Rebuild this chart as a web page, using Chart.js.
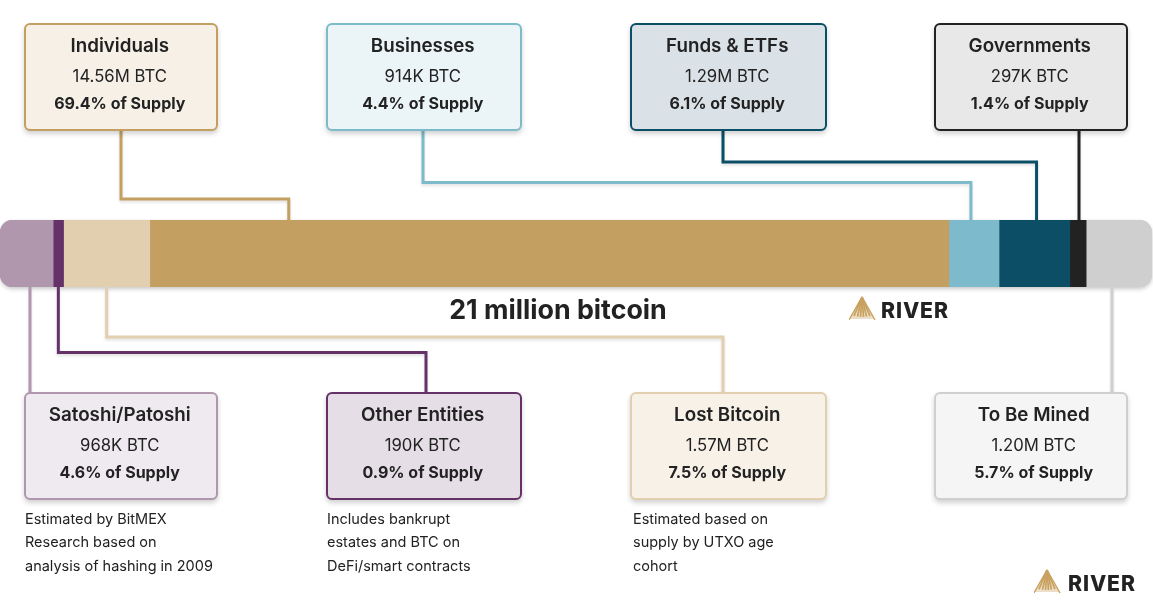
<!DOCTYPE html>
<html>
<head>
<meta charset="utf-8">
<title>Bitcoin supply distribution</title>
<script src="https://cdn.jsdelivr.net/npm/chart.js@4"></script>
<style>
    html, body { margin: 0; padding: 0; background: #fff; }
    #wrap { position: relative; width: 1153px; height: 606px; overflow: hidden; font-family: Inter, sans-serif; color: #222; }
    #supplyChart { position: absolute; left: 0; top: 0; }
    .box { position: absolute; box-sizing: border-box; height: 108.5px; border: 2.5px solid; border-radius: 6px; text-align: center; box-shadow: 0 3px 5px rgba(0, 0, 0, 0.18); }
    .box div { position: absolute; left: 0; white-space: nowrap; }
    .name { top: 7px; font-size: 18.8px; line-height: 28px; font-weight: 600; }
    .amount { top: 39px; font-size: 16.7px; line-height: 24px; font-weight: 400; }
    .share { top: 66px; font-size: 16px; line-height: 24px; font-weight: 700; }
    .note { position: absolute; top: 507px; font-size: 14.5px; line-height: 23.3px; white-space: nowrap; }
    #total { position: absolute; left: 358px; width: 400px; top: 292px; text-align: center; font-size: 26.8px; line-height: 34px; font-weight: 700; }
    .logo { position: absolute; height: 26px; width: 110px; }
    .logo svg { position: absolute; left: 0; top: 0; }
    .logo span { position: absolute; top: 1px; font-size: 21.2px; line-height: 26px; font-weight: 800; letter-spacing: 0.9px; }
</style>
</head>
<body>
<div id="wrap">
    <canvas id="supplyChart" width="1153" height="606"></canvas>
</div>
<script>
// order along the bar, left to right
const categories = ["Satoshi/Patoshi", "Other Entities", "Lost Bitcoin", "Individuals", "Businesses", "Funds & ETFs", "Governments", "To Be Mined"];
const btcMillions = [0.968, 0.19, 1.57, 14.56, 0.914, 1.29, 0.297, 1.2];
const amountLabels = ["968K BTC", "190K BTC", "1.57M BTC", "14.56M BTC", "914K BTC", "1.29M BTC", "297K BTC", "1.20M BTC"];
const shareLabels = ["4.6% of Supply", "0.9% of Supply", "7.5% of Supply", "69.4% of Supply", "4.4% of Supply", "6.1% of Supply", "1.4% of Supply", "5.7% of Supply"];
const noteLines = [
    ["Estimated by BitMEX", "Research based on", "analysis of hashing in 2009"],
    ["Includes bankrupt", "estates and BTC on", "DeFi/smart contracts"],
    ["Estimated based on", "supply by UTXO age", "cohort"]
];
const barColors = ["#b097ae", "#643268", "#e1cfb0", "#c39f61", "#7dbacc", "#0b4e66", "#222222", "#cfcfcf"];
const boxFills = ["#efeaf0", "#e5dee6", "#f7f1e8", "#f6f0e7", "#ebf4f7", "#dae2e7", "#e8e8e8", "#f5f5f5"];

// box position, where the connector leaves it, its elbow, and how far along the segment it lands
const boxLayout = [
    { left: 23.5, width: 194.5, top: 391.5, textRight: 2, lineX: 30, elbowY: null, along: 0.57 },
    { left: 325.5, width: 196.5, top: 391.5, textRight: 2, lineX: 426, elbowY: 352.5, along: 0.5 },
    { left: 629.5, width: 197.5, top: 391.5, textRight: 2, lineX: 723, elbowY: 337, along: 0.5 },
    { left: 23.5, width: 194.5, top: 22.5, textRight: 2, lineX: 121, elbowY: 199, along: 0.174 },
    { left: 325.5, width: 196.5, top: 22.5, textRight: 2, lineX: 423, elbowY: 182.5, along: 0.44 },
    { left: 629.5, width: 197.5, top: 22.5, textRight: 2, lineX: 723, elbowY: 162, along: 0.53 },
    { left: 933.5, width: 194.5, top: 22.5, textRight: 2, lineX: 1079, elbowY: null, along: 0.5 },
    { left: 933.5, width: 194.5, top: 391.5, textRight: -6, lineX: 1112, elbowY: null, along: 0.38 }
];
const noteLeft = [25, 327, 633];

const barTop = 220;
const barBottom = 287;
const barRadius = 13;

function segmentX(scale, index) {
    const start = btcMillions.slice(0, index).reduce((a, b) => a + b, 0);
    return scale.getPixelForValue(start + btcMillions[index] * boxLayout[index].along);
}

// soft shadow under the bar and the connector lines, drawn before the segments
const connectorPlugin = {
    id: "connectors",
    beforeDatasetsDraw(chart) {
        const { ctx, chartArea, scales } = chart;
        ctx.save();
        ctx.shadowColor = "rgba(0, 0, 0, 0.22)";
        ctx.shadowBlur = 4;
        ctx.shadowOffsetY = 2;
        ctx.fillStyle = "#cfcfcf";
        ctx.beginPath();
        ctx.roundRect(chartArea.left, chartArea.top, chartArea.right - chartArea.left, chartArea.bottom - chartArea.top, barRadius);
        ctx.fill();

        ctx.shadowColor = "rgba(0, 0, 0, 0.12)";
        ctx.shadowBlur = 3;
        ctx.lineWidth = 3;
        ctx.lineJoin = "miter";
        boxLayout.forEach((box, i) => {
            const above = box.top < barTop;
            const fromY = above ? box.top + 106 : box.top + 2;
            const toY = above ? barTop : barBottom;
            const toX = box.elbowY === null ? box.lineX : segmentX(scales.x, i);
            ctx.strokeStyle = barColors[i];
            ctx.beginPath();
            ctx.moveTo(box.lineX, fromY);
            if (box.elbowY !== null) {
                ctx.lineTo(box.lineX, box.elbowY);
                ctx.lineTo(toX, box.elbowY);
            }
            ctx.lineTo(toX, toY);
            ctx.stroke();
        });
        ctx.restore();
    }
};

const totalSupply = btcMillions.reduce((a, b) => a + b, 0);

new Chart(document.getElementById("supplyChart").getContext("2d"), {
    type: "bar",
    plugins: [connectorPlugin],
    data: {
        labels: ["Supply"],
        datasets: categories.map((name, i) => ({
            label: name,
            data: [btcMillions[i]],
            backgroundColor: barColors[i],
            borderWidth: 0,
            borderSkipped: false,
            barPercentage: 1,
            categoryPercentage: 1,
            borderRadius: i === 0 ? { topLeft: barRadius, bottomLeft: barRadius }
                : i === categories.length - 1 ? { topRight: barRadius, bottomRight: barRadius } : 0
        }))
    },
    options: {
        indexAxis: "y",
        responsive: false,
        animation: false,
        layout: { padding: { left: 0, right: 1, top: barTop, bottom: 606 - barBottom } },
        plugins: { legend: { display: false }, tooltip: { enabled: false } },
        scales: {
            x: { stacked: true, display: false, min: 0, max: totalSupply },
            y: { stacked: true, display: false }
        }
    }
});

const wrap = document.getElementById("wrap");

function addEl(className, css, text) {
    const el = document.createElement("div");
    el.className = className;
    el.style.cssText = css;
    if (text) el.textContent = text;
    wrap.appendChild(el);
    return el;
}

categories.forEach((name, i) => {
    const b = boxLayout[i];
    const box = addEl("box", `left:${b.left}px;top:${b.top}px;width:${b.width}px;border-color:${barColors[i]};background:${boxFills[i]}`);
    [["name", name], ["amount", amountLabels[i]], ["share", shareLabels[i]]].forEach(([cls, text]) => {
        const d = document.createElement("div");
        d.className = cls;
        d.style.right = b.textRight + "px";
        d.textContent = text;
        box.appendChild(d);
    });
});

noteLines.forEach((lines, i) => {
    addEl("note", `left:${noteLeft[i]}px`).innerHTML = lines.join("<br>");
});

addEl("", "", "21 million bitcoin").id = "total";

// gold fan of rays for the logo mark
function logoMark() {
    const baseX = [0, 5, 8.5, 11.5, 14.5, 17.5, 21, 26];
    let rays = `<polygon points="13,0 1,23 25,23" fill="#c9a15f" opacity="0.35"/>`;
    baseX.forEach((x, i) => {
        const w = i === 0 || i === baseX.length - 1 ? 1.4 : 1.7;
        rays += `<line x1="13" y1="1" x2="${x}" y2="${i === 0 || i === baseX.length - 1 ? 24 : 21 - Math.abs(13 - x) * 0.1}" stroke="#c9a15f" stroke-width="${w}"/>`;
    });
    return `<svg width="27" height="26" viewBox="0 0 27 26">${rays}</svg>`;
}

[[849, 296, 32], [1034, 569, 34]].forEach(([x, y, textLeft]) => {
    addEl("logo", `left:${x}px;top:${y}px`).innerHTML = logoMark() + `<span style="left:${textLeft}px">RIVER</span>`;
});
</script>
</body>
</html>
